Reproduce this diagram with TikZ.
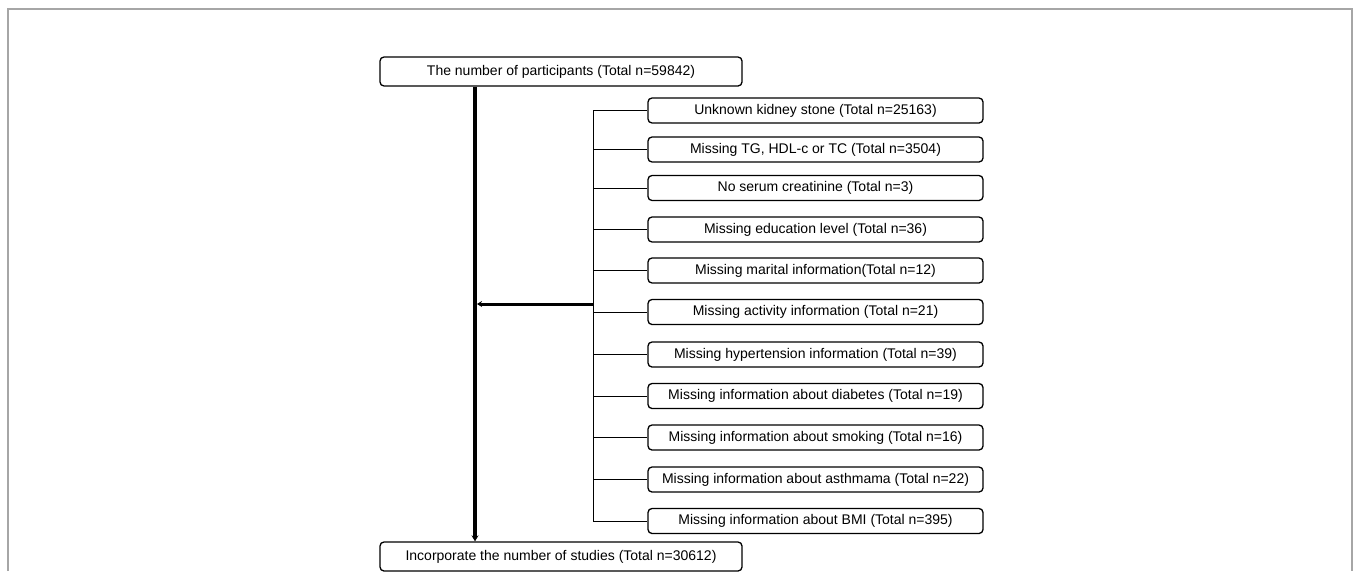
\documentclass[tikz,border=0pt]{standalone}
\usepackage{fontspec}
\setmainfont{Liberation Sans}
\usetikzlibrary{arrows.meta}
\begin{document}
\begin{tikzpicture}[x=1pt,y=-1pt,
  mainbox/.style={draw=black,line width=1.3pt,rounded corners=4pt,minimum width=362pt,minimum height=29pt,inner sep=0pt,font=\fontsize{14}{16}\selectfont},
  sidebox/.style={draw=black,line width=1.3pt,rounded corners=4pt,minimum width=335pt,minimum height=25pt,inner sep=0pt,font=\fontsize{14}{16}\selectfont},
  thin/.style={line width=1pt},
  thickline/.style={line width=4pt},
  thickarrow/.style={line width=3pt,-{Stealth[length=5pt,width=6pt]}}]
\useasboundingbox (0,0) rectangle (1354,571);
\draw[gray!70,line width=1.2pt] (8,571) -- (8,9) -- (1352,9) -- (1352,571);
\node[mainbox] (top) at (561,71.5) {The number of participants (Total n=59842)};
\node[mainbox] (bot) at (561,556.5) {Incorporate the number of studies (Total n=30612)};
\foreach \i/\y/\t in {0/110.5/{Unknown kidney stone (Total n=25163)},
  1/149.5/{Missing TG, HDL-c or TC (Total n=3504)},
  2/188/{No serum creatinine (Total n=3)},
  3/229.5/{Missing education level (Total n=36)},
  4/270.5/{Missing marital information(Total n=12)},
  5/312/{Missing activity information (Total n=21)},
  6/354.5/{Missing hypertension information (Total n=39)},
  7/396/{Missing information about diabetes (Total n=19)},
  8/437.5/{Missing information about smoking (Total n=16)},
  9/479.5/{Missing information about asthmama (Total n=22)},
  10/521/{Missing information about BMI (Total n=395)}}{
  \node[sidebox] (s\i) at (815.5,\y) {\t};
  \coordinate (j\i) at (593,\y);
  \draw[thin] (j\i) -- (s\i.west);
}
\draw[thin] (j0) -- (j10);
\coordinate (top-x) at (475,0);
\draw[thickline,-{Stealth[length=6pt,width=7pt]}] (top.south -| top-x) -- (bot.north -| top-x);
\coordinate (branch) at (593,304);
\coordinate (mainpt) at (477,304);
\draw[thickarrow] (branch) -- (mainpt);
\end{tikzpicture}
\end{document}
